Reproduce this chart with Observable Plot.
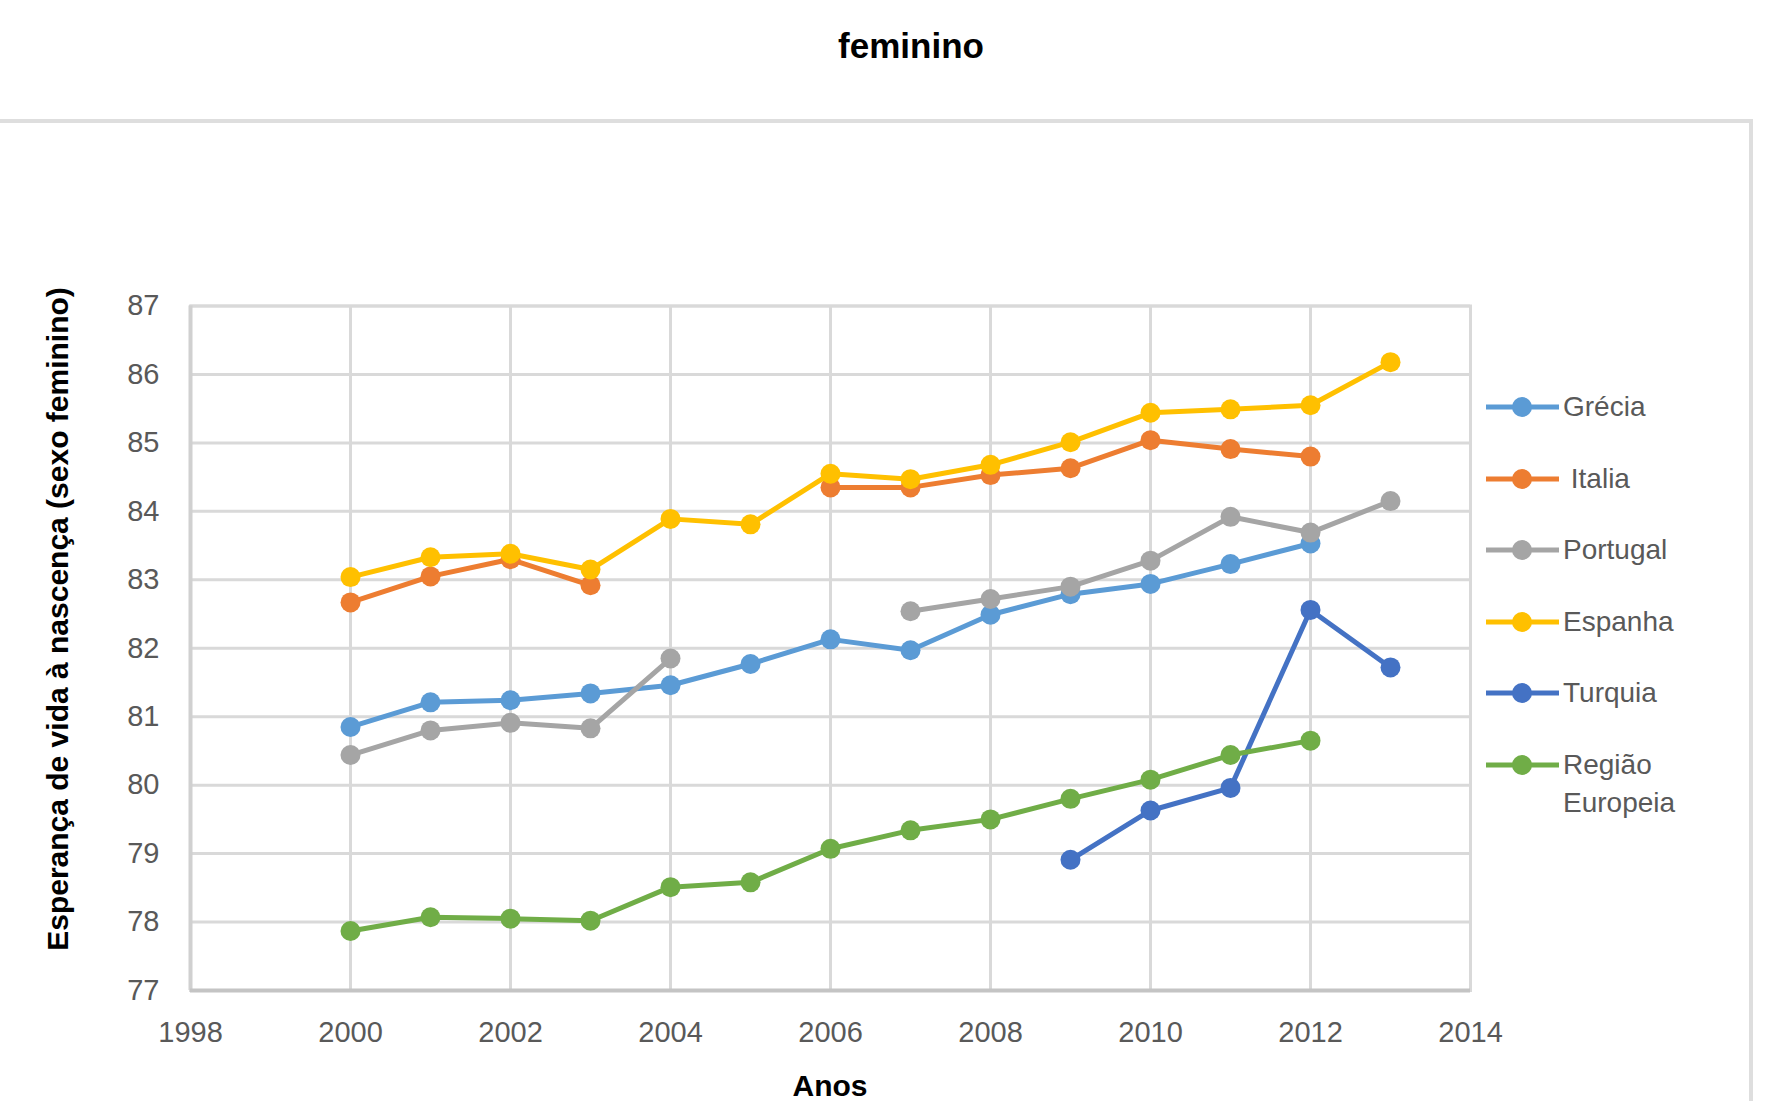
<!DOCTYPE html>
<html>
<head>
<meta charset="utf-8">
<script src="https://cdn.jsdelivr.net/npm/d3@7"></script>
<script src="https://cdn.jsdelivr.net/npm/@observablehq/plot@0.6"></script>
<style>
  html, body { margin: 0; padding: 0; background: #fff; }
  #wrap { position: relative; width: 1767px; height: 1101px; overflow: hidden; background: #fff;
          font-family: "Liberation Sans", Arial, sans-serif; }
  #chart { position: absolute; left: 0; top: 0; }
  .abs { position: absolute; white-space: pre; line-height: 1; }
  .box { position: absolute; left: -10px; top: 119px; width: 1763px; height: 1100px; box-sizing: border-box;
         border-top: 4px solid #dedede; border-right: 4px solid #dedede; }
  .legtext { position: absolute; left: 1563px; font-size: 28px; line-height: 38px; color: #595959; white-space: pre; }
  .legsw { position: absolute; left: 1486px; }
</style>
</head>
<body>
<div id="wrap">
  <div class="box"></div>
  <div id="chart"></div>
  <div class="abs" id="title" style="font-size:35px;font-weight:bold;color:#000;left:911px;top:28.4px;transform:translateX(-50%);">feminino</div>
  <div class="abs" id="ylabel" style="font-size:30px;font-weight:bold;color:#000;left:-292.4px;top:604px;width:700px;height:30px;line-height:30px;text-align:center;transform:rotate(-90deg);transform-origin:50% 50%;">Esperança de vida à nascença (sexo feminino)</div>
  <div class="abs" id="xlabel" style="font-size:30px;font-weight:bold;color:#000;left:830px;top:1072px;height:27px;line-height:27px;transform:translateX(-50%);">Anos</div>
  <div id="legend"></div>
</div>
<script>
// ---- data ----
const years = [2000, 2001, 2002, 2003, 2004, 2005, 2006, 2007, 2008, 2009, 2010, 2011, 2012, 2013];
const seriesNames = ["Grécia", " Italia", "Portugal", "Espanha", "Turquia", "Região\nEuropeia"];
const seriesColors = ["#5b9bd5", "#ed7d31", "#a5a5a5", "#ffc000", "#4472c4", "#70ad47"];
const grecia   = [80.85, 81.21, 81.24, 81.34, 81.46, 81.77, 82.13, 81.97, 82.49, 82.79, 82.94, 83.23, 83.53, null];
const italia   = [82.67, 83.05, 83.30, 82.92, null, null, 84.35, 84.35, 84.53, 84.63, 85.04, 84.91, 84.80, null];
const portugal = [80.44, 80.80, 80.91, 80.83, 81.85, null, null, 82.54, 82.72, 82.90, 83.28, 83.92, 83.69, 84.15];
const espanha  = [83.04, 83.33, 83.38, 83.15, 83.89, 83.81, 84.55, 84.47, 84.68, 85.01, 85.44, 85.49, 85.55, 86.18];
const turquia  = [null, null, null, null, null, null, null, null, null, 78.91, 79.63, 79.96, 82.56, 81.72];
const regiao   = [77.87, 78.07, 78.05, 78.02, 78.51, 78.58, 79.07, 79.34, 79.50, 79.80, 80.08, 80.44, 80.65, null];
const xTicks = [1998, 2000, 2002, 2004, 2006, 2008, 2010, 2012, 2014];
const yTicks = [77, 78, 79, 80, 81, 82, 83, 84, 85, 86, 87];

const seriesValues = [grecia, italia, portugal, espanha, turquia, regiao];

const seriesMarks = [];
seriesNames.forEach((name, k) => {
  const rows = years.map((yr, i) => ({year: yr, value: seriesValues[k][i], series: name}));
  const c = seriesColors[k];
  seriesMarks.push(Plot.line(rows, {x: "year", y: "value", stroke: c, strokeWidth: 5, strokeLinejoin: "round", strokeLinecap: "round"}));
  seriesMarks.push(Plot.dot(rows, {x: "year", y: "value", r: 10, fill: c, stroke: null}));
});

const chart = Plot.plot({
  width: 1767,
  height: 1101,
  marginLeft: 190,
  marginRight: 297,
  marginTop: 305.5,
  marginBottom: 111,
  x: {domain: [1998, 2014], label: null},
  y: {domain: [77, 87], label: null},
  style: {fontFamily: "'Liberation Sans', Arial, sans-serif", fontSize: "29px", color: "#595959", background: "transparent"},
  marks: [
    Plot.gridX(xTicks, {stroke: "#d9d9d9", strokeOpacity: 1, strokeWidth: 3}),
    Plot.gridY(yTicks, {stroke: "#d9d9d9", strokeOpacity: 1, strokeWidth: 3}),
    Plot.frame({stroke: "#d9d9d9", strokeWidth: 3}),
    Plot.ruleX([1998], {stroke: "#d0d0d0", strokeWidth: 4}),
    Plot.ruleY([77], {stroke: "#c4c4c4", strokeWidth: 4}),
    Plot.axisX(xTicks, {tickSize: 0, tickPadding: 31, tickFormat: d => String(d), label: null, fill: "#595959", fontSize: 29}),
    Plot.axisY(yTicks, {tickSize: 0, tickPadding: 31, tickFormat: d => String(d), label: null, fill: "#595959", fontSize: 29}),
    ...seriesMarks
  ]
});
document.getElementById("chart").appendChild(chart);

// ---- legend ----
const legendRows = [407, 479, 550, 622, 693, 765];
const legend = document.getElementById("legend");
seriesNames.forEach((name, k) => {
  const yc = legendRows[k];
  const c = seriesColors[k];
  const sw = document.createElementNS("http://www.w3.org/2000/svg", "svg");
  sw.setAttribute("width", 73);
  sw.setAttribute("height", 24);
  sw.setAttribute("class", "legsw");
  sw.style.top = (yc - 12) + "px";
  sw.innerHTML = `<line x1="0" x2="73" y1="12" y2="12" stroke="${c}" stroke-width="5"/><circle cx="36" cy="12" r="10" fill="${c}"/>`;
  legend.appendChild(sw);
  const t = document.createElement("div");
  t.className = "legtext";
  t.style.top = (yc - 18.7) + "px";
  t.textContent = name;
  legend.appendChild(t);
});
</script>
</body>
</html>
